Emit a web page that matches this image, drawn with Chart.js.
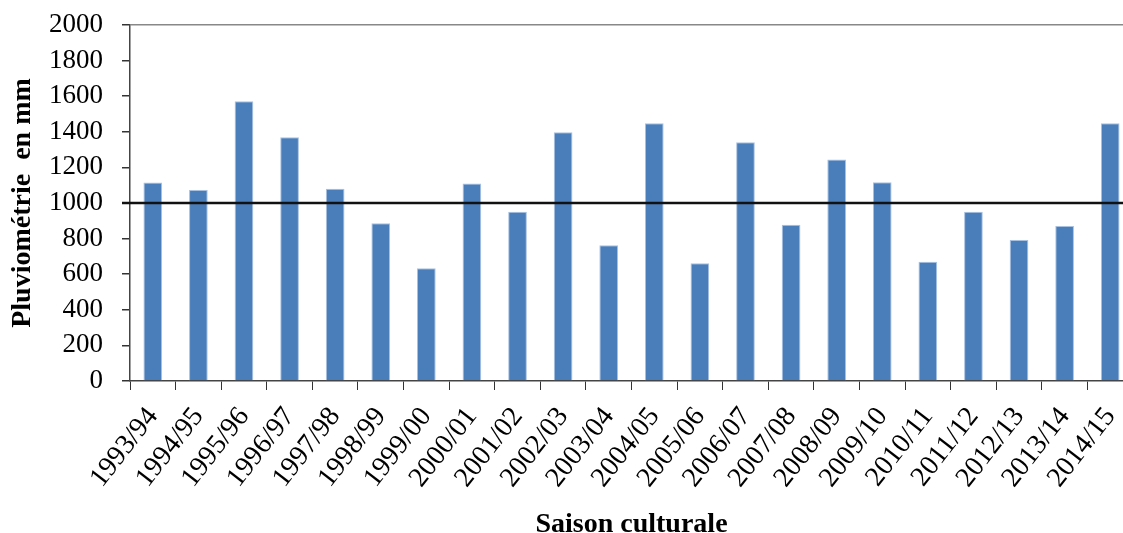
<!DOCTYPE html>
<html>
<head>
<meta charset="utf-8">
<script src="https://cdn.jsdelivr.net/npm/chart.js@4/dist/chart.umd.min.js"></script>
<style>
  html, body { margin: 0; padding: 0; background: #fff; overflow: hidden; }
  #wrap { width: 1133px; height: 533px; position: relative; }
</style>
</head>
<body>
<div id="wrap"><canvas id="rainChart"></canvas></div>
<script>
const seasons = ['1993/94', '1994/95', '1995/96', '1996/97', '1997/98', '1998/99', '1999/00',
    '2000/01', '2001/02', '2002/03', '2003/04', '2004/05', '2005/06', '2006/07', '2007/08',
    '2008/09', '2009/10', '2010/11', '2011/12', '2012/13', '2013/14', '2014/15'];
const rainfall = [1115, 1073, 1571, 1369, 1080, 886, 633, 1110, 951, 1397, 762, 1448,
    661, 1341, 878, 1245, 1116, 670, 951, 792, 871, 1448];
const referenceLevel = 1000;
const yTicks = [0, 200, 400, 600, 800, 1000, 1200, 1400, 1600, 1800, 2000];

const serif = '"Liberation Serif", "Times New Roman", serif';

// horizontal reference line at 1000 mm
const refLine = {
    id: 'refLine',
    afterDatasetsDraw(chart) {
        const { ctx, chartArea, scales } = chart;
        const y = scales.y.getPixelForValue(referenceLevel);
        ctx.save();
        ctx.strokeStyle = '#111';
        ctx.lineWidth = 2.5;
        ctx.beginPath();
        ctx.moveTo(chartArea.left - 8, y);
        ctx.lineTo(chartArea.right, y);
        ctx.stroke();
        ctx.restore();
    }
};

new Chart(document.getElementById('rainChart'), {
    type: 'bar',
    data: {
        labels: seasons,
        datasets: [{
            data: rainfall,
            backgroundColor: '#4A7EBB',
            borderColor: '#A9C1E0',
            borderWidth: 1,
            barPercentage: 0.41,
            categoryPercentage: 1
        }]
    },
    options: {
        animation: false,
        responsive: true,
        maintainAspectRatio: false,
        layout: { padding: { top: 25, left: 0, right: 0, bottom: 0 } },
        plugins: { legend: { display: false }, tooltip: { enabled: false } },
        scales: {
            x: {
                grid: {
                    display: true,
                    offset: true,
                    color: 'rgba(0,0,0,0)',
                    tickColor: '#333',
                    tickLength: 9,
                    drawTicks: true
                },
                border: { display: true, color: '#444', width: 1.5 },
                ticks: {
                    autoSkip: false,
                    minRotation: 52,
                    maxRotation: 52,
                    color: '#000',
                    padding: 11,
                    font: { family: serif, size: 28 }
                },
                title: {
                    display: true,
                    text: 'Saison culturale',
                    color: '#000',
                    padding: 0,
                    font: { family: serif, size: 28, weight: 'bold', lineHeight: 0.6 }
                },
                afterFit(scale) {
                    scale.height = 152;
                    scale.paddingLeft = 0;
                    scale.paddingRight = 0;
                }
            },
            y: {
                min: 0,
                max: 2000,
                afterBuildTicks(scale) { scale.ticks = yTicks.map(v => ({ value: v })); },
                grid: {
                    color: ctx => (ctx.tick && ctx.tick.value === 2000) ? '#888' : 'rgba(0,0,0,0)',
                    lineWidth: 1.5,
                    tickColor: '#333',
                    tickLength: 8
                },
                border: { display: true, color: '#444', width: 1.5 },
                ticks: {
                    autoSkip: false,
                    color: '#000',
                    padding: 19,
                    callback: v => String(v),
                    font: { family: serif, size: 27 }
                },
                title: {
                    display: true,
                    text: 'Pluviométrie  en mm',
                    color: '#000',
                    padding: { top: 6, bottom: 0 },
                    font: { family: serif, size: 28, weight: 'bold' }
                },
                afterFit(scale) {
                    scale.width = 130;
                    scale.paddingTop = 0;
                    scale.paddingBottom = 0;
                }
            }
        }
    },
    plugins: [refLine]
});
</script>
</body>
</html>
